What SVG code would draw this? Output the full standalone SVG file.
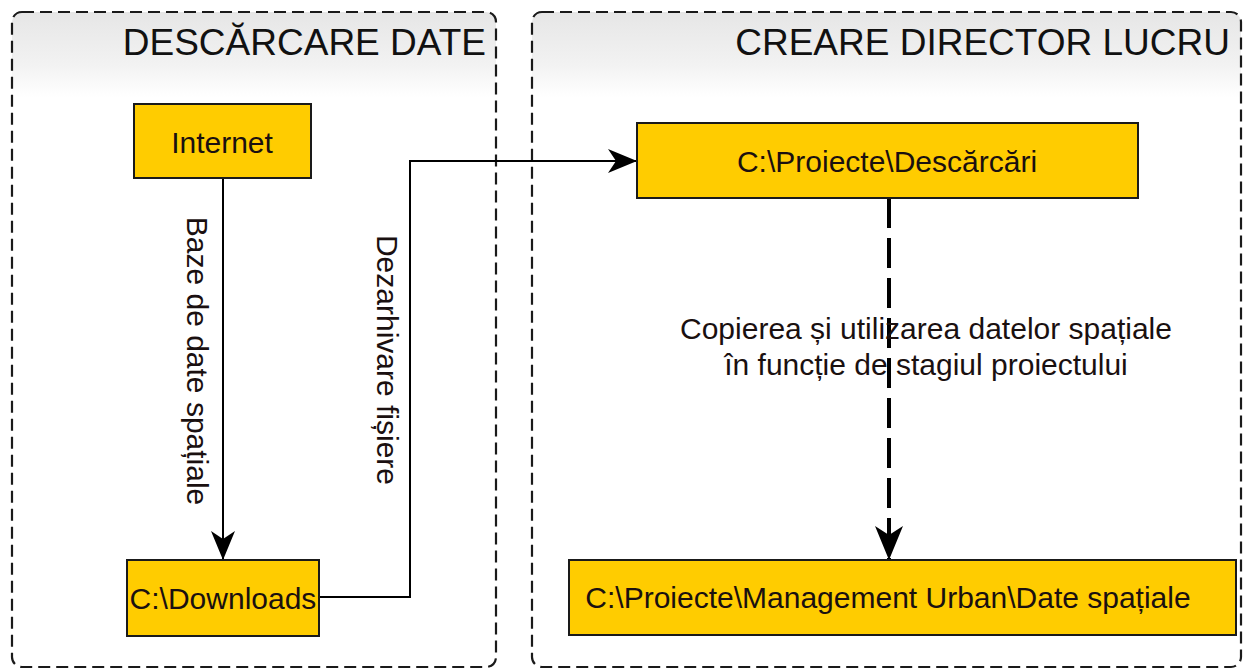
<svg xmlns="http://www.w3.org/2000/svg" width="1243" height="672" viewBox="0 0 1243 672">
  <style>
    .container { fill: url(#hdr); stroke: #1a1a1a; stroke-width: 2.2; stroke-dasharray: 12 6; }
    .hdrtxt { font-family: "Liberation Sans", Arial, sans-serif; font-size: 37px; fill: #111; text-anchor: end; }
    .box { fill: #FFCC00; stroke: #1a1a1a; stroke-width: 2; }
    .txt { font-family: "Liberation Sans", Arial, sans-serif; font-size: 30px; fill: #1a1010; text-anchor: middle; }
    .edge { fill: none; stroke: #000; stroke-width: 2; }
    .edge-dash { fill: none; stroke: #000; stroke-width: 4; stroke-dasharray: 30 10; }
  </style>
  <defs>
    <linearGradient id="hdr" x1="0" y1="0" x2="0" y2="1">
      <stop offset="0" stop-color="#e6e6e6"/>
      <stop offset="0.08" stop-color="#f2f2f2"/>
      <stop offset="0.13" stop-color="#ffffff"/>
      <stop offset="1" stop-color="#ffffff"/>
    </linearGradient>
    <marker id="arrL" markerWidth="29" markerHeight="24" refX="28" refY="12" orient="auto" markerUnits="userSpaceOnUse" viewBox="0 0 29 24">
      <path d="M0,0 L29,12 L0,24 L8,12 Z" fill="#000"/>
    </marker>
    <marker id="arrD" markerWidth="34" markerHeight="28" refX="33" refY="14" orient="auto" markerUnits="userSpaceOnUse" viewBox="0 0 34 28">
      <path d="M0,0 L34,14 L0,28 L9,14 Z" fill="#000"/>
    </marker>
  </defs>

  <rect width="1243" height="672" fill="#ffffff"/>

  <g id="container-descarcare">
    <rect class="container" x="12" y="12" width="484" height="655" rx="10" ry="10"/>
    <text class="hdrtxt" x="486" y="55">DESCĂRCARE DATE</text>
  </g>
  <g id="container-creare">
    <rect class="container" x="532" y="12" width="709" height="655" rx="10" ry="10"/>
    <text class="hdrtxt" x="1230" y="55">CREARE DIRECTOR LUCRU</text>
  </g>

  <g id="connectors">
    <line class="edge" x1="223" y1="178" x2="223" y2="559" marker-end="url(#arrL)"/>
    <polyline class="edge" points="319,597 410,597 410,161 636,161" marker-end="url(#arrL)"/>
    <line class="edge-dash" x1="889" y1="198" x2="889" y2="559" marker-end="url(#arrD)"/>
    <text class="txt" transform="translate(187,361) rotate(90)" x="0" y="0">Baze de date spațiale</text>
    <text class="txt" transform="translate(377,360) rotate(90)" x="0" y="0">Dezarhivare fișiere</text>
    <text class="txt" x="926" y="339">Copierea și utilizarea datelor spațiale</text>
    <text class="txt" x="926" y="375">în funcție de stagiul proiectului</text>
  </g>

  <g id="node-internet">
    <rect class="box" x="134" y="104" width="177" height="74"/>
    <text class="txt" x="222" y="153">Internet</text>
  </g>
  <g id="node-downloads">
    <rect class="box" x="127" y="560" width="192" height="76"/>
    <text class="txt" x="223" y="609">C:\Downloads</text>
  </g>
  <g id="node-descarcari">
    <rect class="box" x="637" y="123" width="501" height="75"/>
    <text class="txt" x="887" y="172">C:\Proiecte\Descărcări</text>
  </g>
  <g id="node-date-spatiale">
    <rect class="box" x="569" y="560" width="667" height="75"/>
    <text class="txt" x="888" y="608">C:\Proiecte\Management Urban\Date spațiale</text>
  </g>
</svg>
